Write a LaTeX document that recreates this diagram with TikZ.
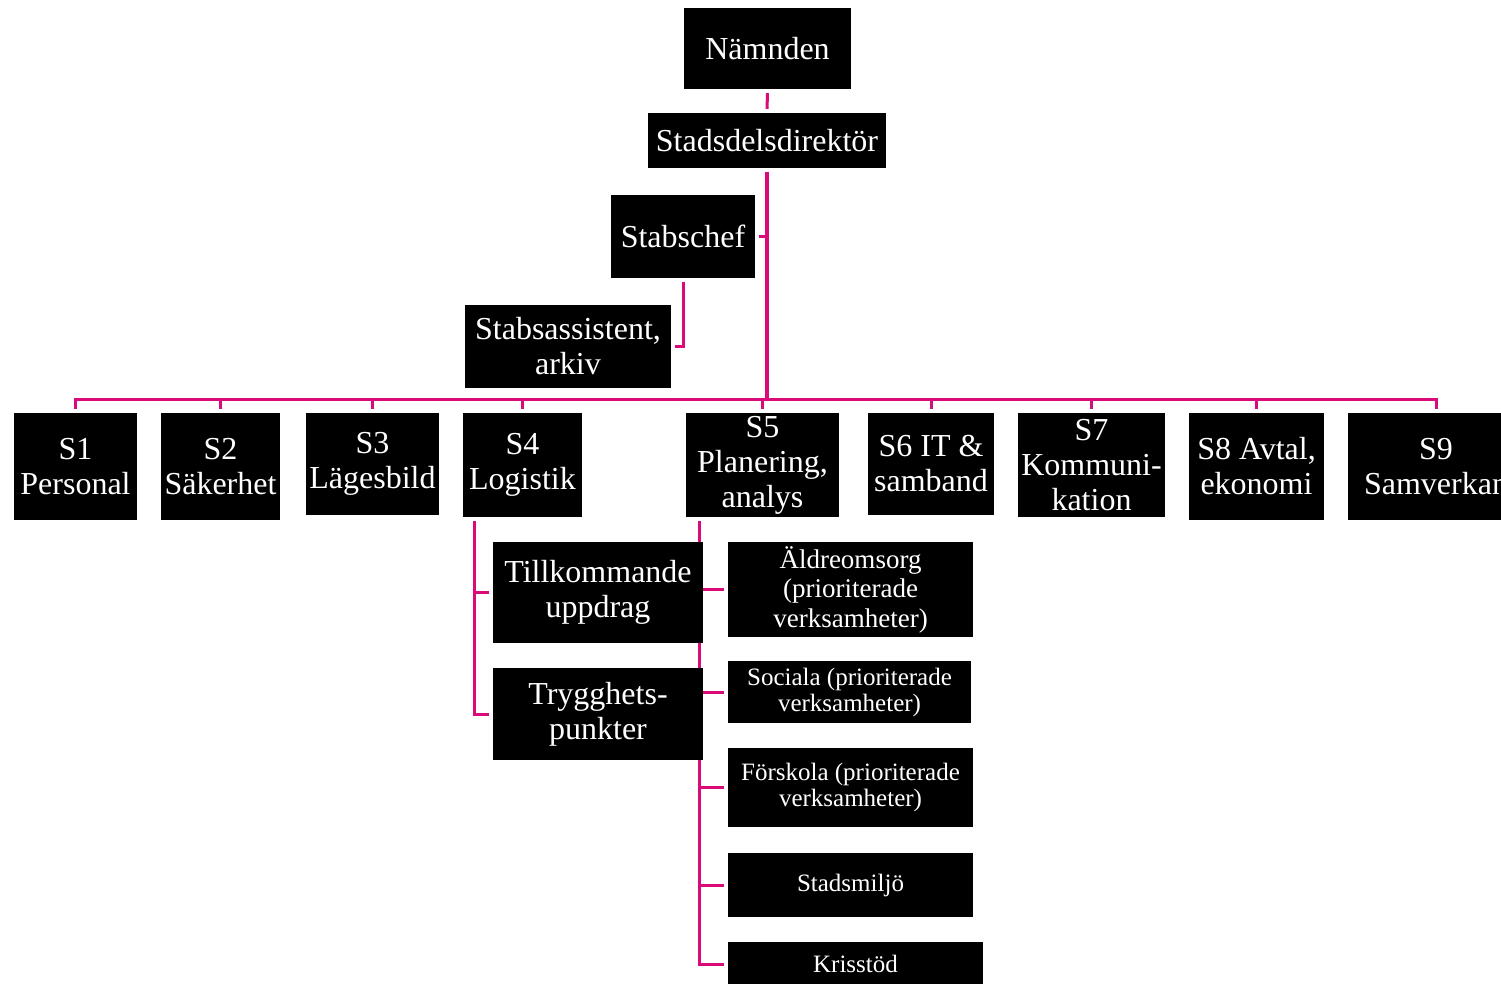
\documentclass[tikz,border=0pt]{standalone}
\usepackage{fontspec}
\setmainfont{Liberation Serif}
\usetikzlibrary{backgrounds}
\definecolor{linkpink}{RGB}{218,10,120}
\begin{document}
\begin{tikzpicture}[x=1pt,y=-1pt,
  box/.style={fill=black,text=white,inner sep=0pt,align=center,anchor=center,
    font=\fontsize{32}{35}\selectfont},
  smallbox/.style={box,font=\fontsize{25}{26}\selectfont},
  link/.style={draw=linkpink,line width=3pt},
  gapend/.style={shorten >=4pt},
  gapstart/.style={shorten <=4pt}]
\useasboundingbox (0,0) rectangle (1501,984);
\clip (0,0) rectangle (1501,984);

% nodes
\node[box,minimum width=167pt,minimum height=81pt] (nam) at (767.5,48.5) {Nämnden};
\node[box,minimum width=238pt,minimum height=55pt] (dir) at (767,140.5) {Stadsdelsdirektör};
\node[box,minimum width=144pt,minimum height=83pt] (chef) at (683,236.5) {Stabschef};
\node[box,minimum width=206pt,minimum height=83pt] (assist) at (568,346.5) {Stabsassistent,\\arkiv};

\node[box,minimum width=123pt,minimum height=107pt] (s1) at (75.5,466.5) {S1\\Personal};
\node[box,minimum width=119pt,minimum height=107pt] (s2) at (220.5,466.5) {S2\\Säkerhet};
\node[box,minimum width=133pt,minimum height=102pt] (s3) at (372.5,464) {S3\\Lägesbild};
\node[box,minimum width=119pt,minimum height=104pt] (s4) at (522.5,465) {S4\\Logistik};
\node[box,minimum width=153pt,minimum height=104pt] (s5) at (762.5,465) {S5\\Planering,\\analys};
\node[box,minimum width=126pt,minimum height=102pt] (s6) at (931,464) {S6 IT \&\\samband};
\node[box,minimum width=147pt,minimum height=104pt] (s7) at (1091.5,465) {S7\\Kommuni-\\kation};
\node[box,minimum width=135pt,minimum height=107pt] (s8) at (1256.5,466.5) {S8 Avtal,\\ekonomi};
\node[box,minimum width=176pt,minimum height=107pt] (s9) at (1436,466.5) {S9\\Samverkan};

\node[box,minimum width=210pt,minimum height=101pt] (till) at (598,592.5) {Tillkommande\\uppdrag};
\node[box,minimum width=210pt,minimum height=92pt] (tryg) at (598,714) {Trygghets-\\punkter};
\node[smallbox,minimum width=245pt,minimum height=95pt,font=\fontsize{27}{29.5}\selectfont] (ald) at (850.5,589.5) {Äldreomsorg\\(prioriterade\\verksamheter)};
\node[smallbox,minimum width=243pt,minimum height=62pt] (soc) at (849.5,692) {Sociala (prioriterade\\verksamheter)};
\node[smallbox,minimum width=245pt,minimum height=79pt] (for) at (850.5,787.5) {Förskola (prioriterade\\verksamheter)};
\node[smallbox,minimum width=245pt,minimum height=64pt] (mil) at (850.5,885) {Stadsmiljö};
\node[smallbox,minimum width=255pt,minimum height=44pt] (kris) at (855.5,964) {Krisstöd};

\coordinate (bus) at (767,399);
\coordinate (s4d) at ([xshift=12pt]s4.south west);
\coordinate (s5d) at ([xshift=14pt]s5.south west);

% connectors behind the boxes
\begin{scope}[on background layer]
\draw[link,gapstart,gapend] (nam.south) -- (dir.north);
\draw[link,line width=3.5pt,gapstart] (dir.south) -- (bus);
\draw[link,gapend] (chef.east -| dir.south) -- (chef.east);
\draw[link,gapstart,gapend] (chef.south) |- (assist.east);
\foreach \s in {s1,s2,s3,s4,s5,s6,s7,s8,s9}{
  \draw[link,gapend] (bus) -| (\s.north);
}
\foreach \c in {till,tryg}{
  \draw[link,gapstart,gapend] (s4d) |- (\c.west);
}
\foreach \c in {ald,soc,for,mil,kris}{
  \draw[link,gapstart,gapend] (s5d) |- (\c.west);
}
\end{scope}
\end{tikzpicture}
\end{document}
